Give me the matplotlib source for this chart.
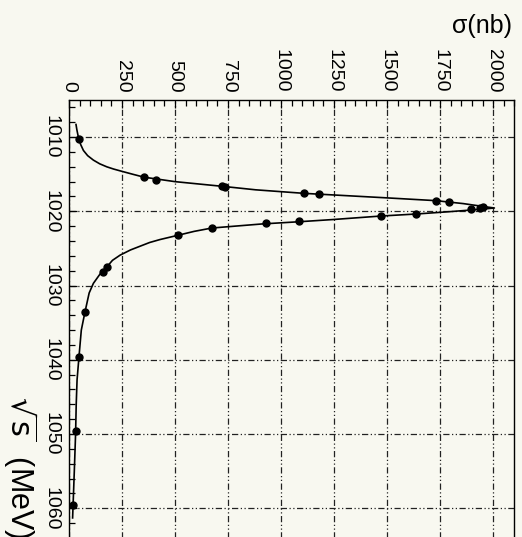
import matplotlib
matplotlib.use("Agg")
import matplotlib.pyplot as plt
from matplotlib.ticker import MultipleLocator

plt.rcParams["font.family"] = ["Liberation Sans", "DejaVu Sans"]
plt.rcParams["mathtext.fontset"] = "dejavusans"

# measured points: sqrt(s) in MeV, cross section in nb
sqrt_s = [1010.2, 1015.38, 1015.74, 1016.63, 1016.70, 1017.58, 1017.67,
          1018.56, 1018.75, 1019.42, 1019.56, 1019.73, 1020.36, 1020.63,
          1021.30, 1021.57, 1022.25, 1023.23, 1027.5, 1028.2, 1033.6,
          1039.6, 1049.6, 1059.6]
sigma = [45, 354, 409, 720, 736, 1110, 1181,
         1730, 1794, 1950, 1939, 1896, 1637, 1472,
         1086, 928, 673, 513, 178, 159, 75,
         47, 32, 20]

# fitted curve
fit_s = [1008.3, 1009.0, 1010.0, 1011.0, 1011.8, 1012.5, 1013.1, 1013.6,
         1014.0, 1014.3, 1014.6, 1015.0, 1015.4, 1016.0,
         1016.65, 1017.1, 1017.58, 1018.16, 1018.56, 1018.96, 1019.33,
         1019.55, 1019.73, 1020.04, 1020.36, 1020.63, 1021.1, 1021.4,
         1021.7, 1022.25, 1022.7, 1023.23, 1023.8, 1024.2, 1024.7, 1025.2,
         1025.9, 1026.6, 1027.5, 1028.5, 1029.7, 1031.0, 1033.6, 1036.0,
         1039.6, 1042.7, 1046.0, 1050.0, 1055.0, 1061.3]
fit_sigma = [33, 37, 44, 55, 68, 88, 115, 145,
             178, 210, 248, 300, 354, 500,
             730, 880, 1110, 1483, 1730, 1860, 1950,
             2006, 1939, 1797, 1637, 1472, 1247, 1086,
             910, 673, 590, 513, 429, 380, 335, 290,
             241, 205, 178, 145, 115, 95, 75, 58,
             47, 38, 34, 31, 25, 17]

bg = "#f8f8f0"
fig = plt.figure(figsize=(5.22, 5.37), dpi=100, facecolor=bg)
ax = fig.add_axes([0.1322, -0.0156, 0.8531, 0.8294], facecolor=bg)

# the chart is drawn turned a quarter: sigma runs across, sqrt(s) runs down
ax.plot(fit_sigma, fit_s, color="black", lw=1.2, zorder=3)
ax.plot(sigma, sqrt_s, "o", color="black", ms=5, zorder=4)

ax.set_xlim(0, 2100)
ax.set_ylim(1065, 1005)

ax.xaxis.set_major_locator(MultipleLocator(250))
ax.xaxis.set_minor_locator(MultipleLocator(50))
ax.yaxis.set_major_locator(MultipleLocator(10))
ax.yaxis.set_minor_locator(MultipleLocator(2))

ax.tick_params(which="both", direction="in", top=True, bottom=False,
               left=True, right=False, labeltop=True, labelbottom=False,
               width=0.9, color="black")
ax.tick_params(which="major", length=6)
ax.tick_params(which="minor", length=4.5)
ax.tick_params(axis="x", which="major", pad=5.5, labelsize=14, labelrotation=-90)
ax.tick_params(axis="y", which="major", pad=6.5, labelsize=14, labelrotation=-90)
for lab in ax.get_yticklabels():
    lab.set_va("center")

ax.grid(True, which="major", color="#222222", lw=0.9,
        linestyle=(0, (5, 2, 1, 2, 1, 2)), zorder=1)

for sp in ax.spines.values():
    sp.set_linewidth(1.0)

fig.text(512 / 522, 1 - 26 / 537, "σ(nb)", fontsize=18, ha="right", va="center")
fig.text(20 / 522, 1 - 396 / 537, r"$\sqrt{\mathrm{s}}$  (MeV)", fontsize=22,
         rotation=-90, ha="center", va="top")

fig.savefig("out.png", dpi=100, facecolor=bg)
